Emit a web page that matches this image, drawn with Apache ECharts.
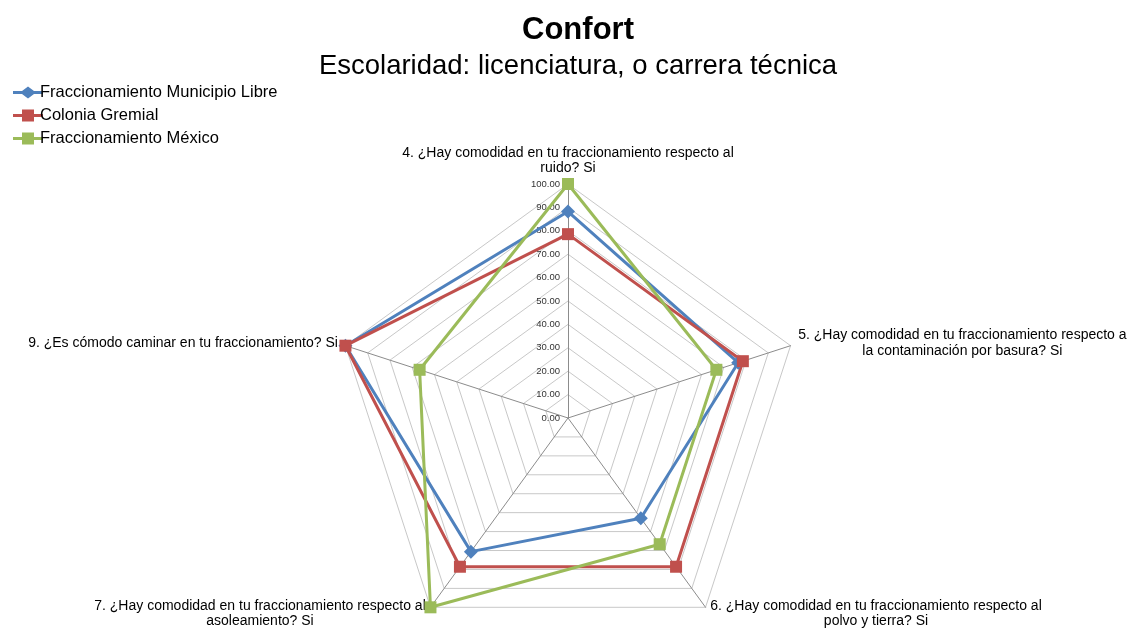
<!DOCTYPE html>
<html>
<head>
<meta charset="utf-8">
<script src="https://cdn.jsdelivr.net/npm/echarts@6/dist/echarts.min.js"></script>
<style>
  html, body { margin: 0; padding: 0; background: #fff; }
  #chart { width: 1128px; height: 629px; }
</style>
</head>
<body>
<div id="chart"></div>
<script>
// indicators in ECharts order (counter-clockwise from top)
var indicators = [
  '4. ¿Hay comodidad en tu fraccionamiento respecto al\nruido? Si',
  '9. ¿Es cómodo caminar en tu fraccionamiento? Si',
  '7. ¿Hay comodidad en tu fraccionamiento respecto al\nasoleamiento? Si',
  '6. ¿Hay comodidad en tu fraccionamiento respecto al\npolvo y tierra? Si',
  '5. ¿Hay comodidad en tu fraccionamiento respecto a\nla contaminación por basura? Si'
];
var seriesNames = ['Fraccionamiento Municipio Libre', 'Colonia Gremial', 'Fraccionamiento México'];
var municipioLibre = [88.24, 100, 70.59, 52.94, 76.47];
var coloniaGremial = [78.57, 100, 78.57, 78.57, 78.57];
var fracMexico = [100, 66.67, 100, 66.67, 66.67];

var colors = ['#4F81BD', '#C0504D', '#9BBB59'];
var symbols = ['diamond', 'rect', 'rect'];
var symbolSizes = [14, 12, 12];
var values = [municipioLibre, coloniaGremial, fracMexico];

// legend icons: line with marker in the middle
var diamondIcon = 'path://M0,4.5h9l6,-4.5l6,4.5h9v3h-9l-6,4.5l-6,-4.5h-9z';
var squareIcon = 'path://M0,4.5h9v-4.5h12v4.5h9v3h-9v4.5h-12v-4.5h-9z';
var icons = [diamondIcon, squareIcon, squareIcon];

var chart = echarts.init(document.getElementById('chart'));

// center each line of a label inside its text block
function centerLines(name) {
  return name.split('\n').map(function (l) { return '{c|' + l + '}'; }).join('\n');
}

var indicatorOpts = indicators.map(function (n, i) {
  var o = { name: n, min: 0, max: 100 };
  if (i === 0) {
    o.axisLabel = {
      show: true,
      fontSize: 9.5,
      color: '#333',
      fontFamily: 'Liberation Sans',
      formatter: function (v) { return Number(v).toFixed(2); }
    };
  }
  return o;
});

var option = {
  backgroundColor: '#fff',
  animation: false,
  title: [
    {
      text: 'Confort',
      left: 573, top: 10, textAlign: 'center',
      textStyle: { fontFamily: 'Liberation Sans', fontSize: 31, fontWeight: 'bold', color: '#000' }
    },
    {
      text: 'Escolaridad: licenciatura, o carrera técnica',
      left: 573, top: 47, textAlign: 'center',
      textStyle: { fontFamily: 'Liberation Sans', fontSize: 27.5, fontWeight: 'normal', color: '#000' }
    }
  ],
  legend: {
    orient: 'vertical',
    left: 8,
    top: 79,
    itemWidth: 30,
    itemHeight: 12,
    itemGap: 6,
    data: seriesNames.map(function (n, i) { return { name: n, icon: icons[i] }; }),
    textStyle: { fontFamily: 'Liberation Sans', fontSize: 16.5, color: '#000', padding: [0, 0, 0, -8] }
  },
  radar: {
    center: [568, 418],
    radius: 234,
    startAngle: 90,
    splitNumber: 10,
    shape: 'polygon',
    nameGap: 8,
    indicator: indicatorOpts,
    axisName: {
      color: '#000',
      fontFamily: 'Liberation Sans',
      fontSize: 14,
      formatter: function (name) { return centerLines(name); },
      rich: {
        c: { align: 'center', fontSize: 14, fontFamily: 'Liberation Sans', color: '#000', lineHeight: 15.5 }
      }
    },
    axisLine: { lineStyle: { color: '#8c8c8c', width: 1 } },
    splitLine: { lineStyle: { color: '#c8c8c8', width: 1 } },
    splitArea: { show: false },
    axisTick: { show: false },
    axisLabel: { show: false }
  },
  series: [{
    type: 'radar',
    data: values.map(function (v, i) {
      return {
        name: seriesNames[i],
        value: v,
        symbol: symbols[i],
        symbolSize: symbolSizes[i],
        lineStyle: { color: colors[i], width: 3 },
        itemStyle: { color: colors[i] }
      };
    })
  }]
};

chart.setOption(option);
</script>
</body>
</html>
